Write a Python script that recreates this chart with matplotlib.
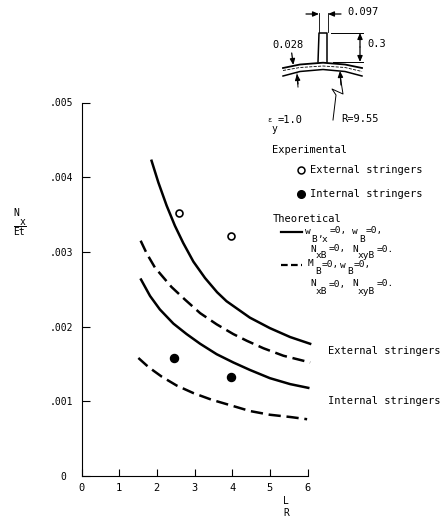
import matplotlib
matplotlib.use('Agg')
import matplotlib.pyplot as plt
from matplotlib.transforms import ScaledTranslation

W, H = 445, 519
plt.rcParams['font.family'] = 'DejaVu Sans Mono'

# curves
x_ext_solid = [1.86, 2.04, 2.26, 2.48, 2.70, 2.97, 3.28, 3.60, 3.85, 4.47, 5.00, 5.54, 6.07]
y_ext_solid = [.00422, .00393, .00362, .00335, .00312, .00287, .00265, .00246, .00234, .00212, .00198, .00186, .00177]
x_ext_dash = [1.57, 1.73, 1.95, 2.39, 2.75, 3.15, 3.59, 4.03, 4.39, 4.83, 5.36, 6.07]
y_ext_dash = [.00315, .00298, .00279, .00253, .00236, .00218, .00203, .00190, .00181, .00171, .00161, .00152]
x_int_solid = [1.58, 1.82, 2.08, 2.44, 2.79, 3.15, 3.59, 4.03, 4.47, 5.00, 5.54, 6.02]
y_int_solid = [.00263, .00241, .00223, .00204, .00190, .00177, .00163, .00152, .00142, .00131, .00123, .00118]
x_int_dash = [1.51, 1.73, 1.91, 2.13, 2.53, 2.97, 3.46, 4.07, 4.47, 5.00, 5.54, 5.99]
y_int_dash = [.00158, .00148, .00141, .00133, .00121, .00111, .00102, .00093, .00087, .00082, .00079, .00076]

x_open = [2.59, 3.97]
y_open = [.00352, .00321]
x_filled = [2.46, 3.97]
y_filled = [.00158, .00132]

x_ticks = [0, 1, 2, 3, 4, 5, 6]
y_ticks = [0, .001, .002, .003, .004, .005]
y_tick_labels = ['0', '.001', '.002', '.003', '.004', '.005']

fig = plt.figure(figsize=(W / 100, H / 100), dpi=100)
ax = fig.add_axes([81.5 / W, 1 - 476 / H, 226 / W, 373.5 / H])
ax.set_xlim(0, 6)
ax.set_ylim(0, .005)
ax.spines['top'].set_visible(False)
ax.spines['right'].set_visible(False)
ax.spines['left'].set_linewidth(0.8)
ax.spines['bottom'].set_linewidth(0.8)
ax.set_xticks(x_ticks)
ax.set_yticks(y_ticks)
ax.set_xticklabels([str(t) for t in x_ticks])
ax.set_yticklabels(y_tick_labels)
ax.tick_params(axis='x', direction='in', length=5, width=0.8, labelsize=7.5, pad=5)
ax.tick_params(axis='y', direction='in', length=6, width=0.8, labelsize=7, pad=6)
# the 0 sits further left than the other labels
zero = ax.get_yticklabels()[0]
zero.set_transform(zero.get_transform() + ScaledTranslation(-7 / 100, 0, fig.dpi_scale_trans))

DASH = (4.9, 2.3)
ax.plot(x_ext_solid, y_ext_solid, 'k-', lw=1.8, clip_on=False)
ax.plot(x_int_solid, y_int_solid, 'k-', lw=1.8, clip_on=False)
ax.plot(x_ext_dash, y_ext_dash, 'k-', lw=1.8, dashes=DASH, clip_on=False)
ax.plot(x_int_dash, y_int_dash, 'k-', lw=1.8, dashes=DASH, clip_on=False)
ax.plot(x_open, y_open, 'o', mfc='white', mec='k', mew=1.2, ms=5)
ax.plot(x_filled, y_filled, 'o', color='k', ms=5.8)

# overlay in pixel coordinates for the stringer sketch and key
ov = fig.add_axes([0, 0, 1, 1])
ov.set_xlim(0, W)
ov.set_ylim(H, 0)
ov.axis('off')
ov.patch.set_alpha(0)


def label(x, y, s, size=7.5):
    ov.text(x, y, s, fontsize=size, va='center', ha='left')


def arrow(x_a, y_a, x_b, y_b):
    ov.annotate('', xy=(x_b, y_b), xytext=(x_a, y_a),
                arrowprops=dict(arrowstyle='-|>,head_width=0.15,head_length=0.35', color='k', lw=0.9, shrinkA=0, shrinkB=0))


# axis titles
label(13.5, 213, 'N', 7)
label(19.5, 222, 'x', 7)
ov.plot([14, 26], [226, 226], 'k', lw=0.7)
label(13.5, 232, 'Et', 7)
label(283, 501, 'L', 7)
label(283, 513, 'R', 7)

# stringer sketch
ov.plot([318, 319, 327, 327], [62, 33, 33, 62], 'k', lw=1.1)
ov.plot([319, 319], [13, 32], 'k', lw=0.6)
ov.plot([328, 328], [13, 32], 'k', lw=0.6)
arrow(306, 14, 319, 14)
arrow(341, 14, 328, 14)
ov.plot([331, 363], [33, 33], 'k', lw=0.7)
ov.plot([333, 363], [62, 62], 'k', lw=0.7)
arrow(360, 47, 360, 33)
arrow(360, 47, 360, 62)
shell_x = [283, 300, 323, 345, 362]
ov.plot(shell_x, [68, 64.5, 62.7, 64.5, 68], 'k', lw=1.3)
ov.plot(shell_x, [70.5, 67.5, 66, 67.5, 71.5], 'k', lw=0.6, ls='--')
ov.plot(shell_x, [76, 71.5, 69.5, 71.5, 76], 'k', lw=1.1)
arrow(291.7, 53, 293.3, 65)
ov.plot([298, 297], [87, 74], 'k', lw=0.7)
arrow(298, 84, 297, 74)
ov.plot([333, 336, 332, 343, 340], [120, 95, 89, 94, 75], 'k', lw=0.7)
arrow(341, 85, 340, 71)

# text labels
label(347, 12, '0.097')
label(272, 45, '0.028')
label(367, 44, '0.3')
label(267, 120, 'ε', 5)
label(271, 129, 'y', 7)
label(278, 120, '=1.0')
label(341, 119, 'R=9.55')
label(272, 150, 'Experimental')
ov.plot([301], [170], 'o', mfc='white', mec='k', mew=1.1, ms=5)
label(310, 170, 'External stringers')
ov.plot([301], [194], 'o', color='k', ms=5.5)
label(310, 194, 'Internal stringers')
label(273, 219, 'Theoretical')

KEY = 6.8
ov.plot([281, 302], [232, 232], 'k', lw=1.6)
label(305, 232, 'w', KEY)
label(311, 239, 'B', KEY)
label(317, 234, ',', KEY)
label(322, 239, 'x', KEY)
label(330, 231, '=0,', KEY)
label(352, 232, 'w', KEY)
label(359, 239, 'B', KEY)
label(366, 231, '=0,', KEY)

label(310, 249, 'N', KEY)
label(316, 256, 'xB', KEY)
label(329, 249, '=0,', KEY)
label(352, 249, 'N', KEY)
label(358, 256, 'xyB', KEY)
label(377, 249, '=0.', KEY)

ov.plot([281, 302], [265, 265], 'k', lw=1.6, dashes=(3, 1.5))
label(308, 264, 'M', KEY)
label(315, 271, 'B', KEY)
label(322, 264, '=0,', KEY)
label(340, 265, 'w', KEY)
label(347, 271, 'B', KEY)
label(354, 264, '=0,', KEY)

label(310, 284, 'N', KEY)
label(316, 291, 'xB', KEY)
label(329, 284, '=0,', KEY)
label(352, 284, 'N', KEY)
label(358, 291, 'xyB', KEY)
label(377, 284, '=0.', KEY)

label(328, 351, 'External stringers')
label(328, 401, 'Internal stringers')

fig.savefig('out.png', dpi=100)
